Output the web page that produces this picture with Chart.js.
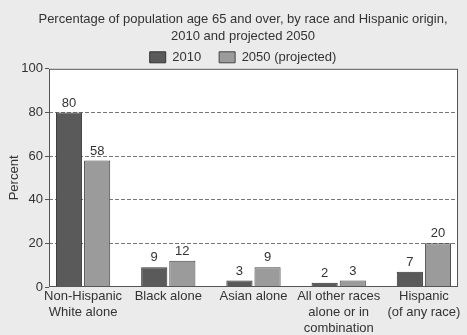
<!DOCTYPE html>
<html>
<head>
<meta charset="utf-8">
<script src="https://cdn.jsdelivr.net/npm/chart.js@4"></script>
<style>
  html, body { margin: 0; padding: 0; background: #ebebeb; }
  #wrap { width: 467px; height: 335px; }
</style>
</head>
<body>
<div id="wrap"><canvas id="chart" width="467" height="335"></canvas></div>
<script>
const categories = [
    ["Non-Hispanic", "White alone"],
    ["Black alone"],
    ["Asian alone"],
    ["All other races", "alone or in", "combination"],
    ["Hispanic", "(of any race)"]
];
const values2010 = [80, 9, 3, 2, 7];
const values2050 = [58, 12, 9, 3, 20];
const seriesNames = ["2010", "2050 (projected)"];
const yTicks = [0, 20, 40, 60, 80, 100];

const FONT = "'Liberation Sans', Arial, sans-serif";
const TXT = "#333";

// fond gris + zone de tracé blanche + cadre
const frame = {
    id: "frame",
    beforeDraw(chart) {
        const { ctx, chartArea: a } = chart;
        ctx.save();
        ctx.fillStyle = "#ebebeb";
        ctx.fillRect(0, 0, chart.width, chart.height);
        ctx.fillStyle = "#ffffff";
        ctx.fillRect(a.left, a.top, a.right - a.left, a.bottom - a.top);
        ctx.restore();
    },
    afterDraw(chart) {
        const { ctx, chartArea: a } = chart;
        ctx.save();
        ctx.strokeStyle = "#555";
        ctx.lineWidth = 1;
        ctx.strokeRect(a.left + 0.5, a.top + 0.5, a.right - a.left - 1, a.bottom - a.top - 1);
        ctx.restore();
    }
};

// valeurs au-dessus des barres
const barLabels = {
    id: "barLabels",
    afterDatasetsDraw(chart) {
        const { ctx } = chart;
        ctx.save();
        ctx.font = "13px " + FONT;
        ctx.fillStyle = TXT;
        ctx.textAlign = "center";
        ctx.textBaseline = "bottom";
        chart.data.datasets.forEach((ds, i) => {
            chart.getDatasetMeta(i).data.forEach((bar, j) => {
                ctx.fillText(ds.data[j].y, bar.x, bar.y - 3);
            });
        });
        ctx.restore();
    }
};

const toPoints = arr => arr.map((v, i) => ({ x: i, y: v }));

new Chart(document.getElementById("chart").getContext("2d"), {
    type: "bar",
    data: {
        datasets: [{
            label: seriesNames[0],
            data: toPoints(values2010),
            backgroundColor: "#5a5a5a",
            borderColor: "#333",
            borderWidth: 1,
            categoryPercentage: 0.66,
            barPercentage: 0.93
        }, {
            label: seriesNames[1],
            data: toPoints(values2050),
            backgroundColor: "#9b9b9b",
            borderColor: "#444",
            borderWidth: 1,
            categoryPercentage: 0.66,
            barPercentage: 0.93
        }]
    },
    options: {
        responsive: false,
        animation: false,
        // décalage à gauche pour centrer titre/légende comme l'original
        layout: { padding: { left: 19, right: 0, top: 0, bottom: 0 } },
        plugins: {
            title: {
                display: true,
                text: ["Percentage of population age 65 and over, by race and Hispanic origin,",
                       "2010 and projected 2050"],
                color: TXT,
                font: { family: FONT, size: 13, weight: "normal", lineHeight: 1.3 },
                padding: { top: 11, bottom: -12 }
            },
            legend: {
                position: "top",
                maxHeight: 36,
                labels: {
                    color: TXT,
                    font: { family: FONT, size: 13 },
                    boxWidth: 16,
                    boxHeight: 11,
                    padding: 18
                }
            },
            tooltip: { enabled: false }
        },
        scales: {
            x: {
                type: "linear",
                min: -0.4,
                max: categories.length - 0.6,
                offset: false,
                afterBuildTicks(scale) { scale.ticks = categories.map((c, i) => ({ value: i })); },
                grid: { display: false, drawTicks: false },
                border: { display: false },
                ticks: {
                    color: TXT,
                    font: { family: FONT, size: 13, lineHeight: 1.2 },
                    maxRotation: 0,
                    autoSkip: false,
                    padding: 2,
                    callback: v => categories[v]
                },
                afterFit(scale) { scale.height = 48; }
            },
            y: {
                min: 0,
                max: 100,
                afterBuildTicks(scale) { scale.ticks = yTicks.map(v => ({ value: v })); },
                grid: {
                    color: ctx => (ctx.tick && (ctx.tick.value === 0 || ctx.tick.value === 100)) ? "rgba(0,0,0,0)" : "#777",
                    tickColor: "#555",
                    tickBorderDash: [],
                    tickLength: 4,
                    drawTicks: true
                },
                // en v4 le pointillé des lignes de grille vient de border.dash
                border: { display: false, dash: [4, 2] },
                ticks: {
                    color: TXT,
                    font: { family: FONT, size: 13 },
                    padding: 2
                },
                title: {
                    display: true,
                    text: "Percent",
                    color: TXT,
                    font: { family: FONT, size: 13 },
                    padding: { top: -12, bottom: 0 }
                },
                afterFit(scale) { scale.width = 30; }
            },
            // marge droite vide
            right: {
                position: "right",
                grid: { display: false },
                border: { display: false },
                ticks: { display: false },
                afterFit(scale) { scale.width = 9; }
            }
        }
    },
    plugins: [frame, barLabels]
});
</script>
</body>
</html>
